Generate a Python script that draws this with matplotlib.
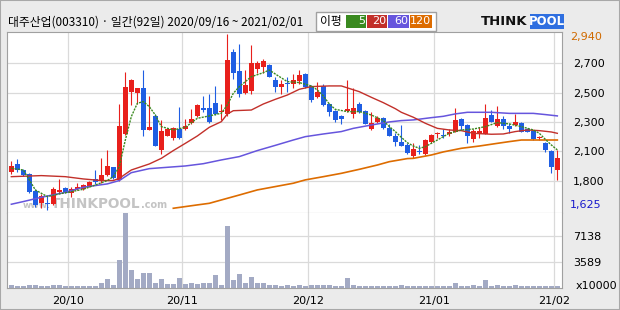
#!/usr/bin/env python3
"""대주산업(003310) 일간 캔들차트 + 이동평균 + 거래량 (ThinkPool 스타일) -> out.png"""
import numpy as np
import matplotlib
matplotlib.use("Agg")
import matplotlib.pyplot as plt
from matplotlib.patches import Rectangle

W, H = 620, 310  # px, dpi=100

# ---- 데이터: 2020/09/16 ~ 2021/02/01, 92 거래일 (원) ----
opens = [1910, 1965, 1925, 1895, 1765, 1680, 1680, 1670, 1760, 1790,
         1750, 1780, 1780, 1805, 1860, 1840, 1885, 1945, 1850, 2195,
         2510, 2500, 2535, 2225, 2330, 2075, 2180, 2165, 2230, 2230,
         2275, 2325, 2385, 2390, 2425, 2355, 2345, 2805, 2660, 2500,
         2515, 2680, 2690, 2705, 2595, 2545, 2570, 2565, 2590, 2640,
         2550, 2470, 2550, 2415, 2365, 2330, 2365, 2345, 2415, 2365,
         2230, 2280, 2315, 2240, 2175, 2130, 2110, 2025, 2065, 2045,
         2135, 2195, 2185, 2190, 2210, 2305, 2260, 2155, 2190, 2195,
         2335, 2250, 2305, 2255, 2260, 2275, 2230, 2215, 2160, 2125,
         2065, 1925]
highs = [1990, 2005, 1930, 1900, 1780, 1745, 1735, 1795, 1855, 1800,
         1795, 1830, 1820, 1840, 1925, 2010, 2075, 1950, 2420, 2655,
         2605, 2540, 2670, 2480, 2340, 2300, 2235, 2245, 2395, 2305,
         2380, 2415, 2480, 2490, 2550, 2420, 2940, 2830, 2865, 2670,
         2855, 2740, 2755, 2715, 2620, 2595, 2620, 2640, 2670, 2645,
         2560, 2580, 2570, 2425, 2370, 2335, 2600, 2535, 2435, 2370,
         2360, 2330, 2320, 2270, 2200, 2260, 2125, 2125, 2110, 2155,
         2195, 2210, 2230, 2230, 2385, 2315, 2270, 2230, 2245, 2420,
         2370, 2400, 2330, 2275, 2345, 2280, 2240, 2225, 2175, 2135,
         2075, 2075]
lows = [1895, 1910, 1880, 1750, 1650, 1640, 1625, 1665, 1755, 1750,
        1720, 1775, 1775, 1800, 1820, 1830, 1880, 1860, 1845, 2185,
        2410, 2415, 2180, 2220, 2100, 2045, 2175, 2145, 2155, 2225,
        2270, 2320, 2360, 2275, 2335, 2300, 2330, 2605, 2470, 2495,
        2490, 2645, 2645, 2615, 2510, 2495, 2510, 2535, 2565, 2540,
        2435, 2465, 2400, 2325, 2285, 2270, 2360, 2315, 2350, 2265,
        2225, 2275, 2230, 2175, 2100, 2100, 2045, 2015, 2045, 2035,
        2125, 2160, 2160, 2175, 2205, 2225, 2125, 2130, 2160, 2190,
        2280, 2245, 2230, 2200, 2250, 2205, 2205, 2150, 2145, 2055,
        1905, 1850]
closes = [1955, 1925, 1885, 1760, 1660, 1730, 1670, 1780, 1775, 1755,
          1785, 1800, 1815, 1835, 1835, 1890, 1955, 1865, 2255, 2545,
          2595, 2535, 2220, 2245, 2105, 2215, 2230, 2235, 2165, 2255,
          2305, 2410, 2370, 2285, 2345, 2360, 2745, 2650, 2490, 2560,
          2720, 2725, 2735, 2620, 2545, 2565, 2565, 2595, 2630, 2545,
          2450, 2505, 2410, 2360, 2295, 2305, 2380, 2385, 2360, 2270,
          2275, 2310, 2235, 2180, 2130, 2105, 2050, 2080, 2055, 2150,
          2185, 2200, 2180, 2210, 2295, 2255, 2180, 2215, 2215, 2310,
          2285, 2305, 2250, 2230, 2280, 2210, 2210, 2155, 2165, 2075,
          1950, 2015]
# 거래량 (x10000주)
volumes = [440, 300, 300, 440, 440, 300, 300, 440, 440, 300,
           300, 300, 300, 300, 300, 760, 1270, 440, 3900, 10400,
           2520, 1270, 2010, 2010, 760, 1270, 580, 580, 1410, 620,
           760, 620, 760, 760, 1820, 440, 8620, 1130, 1960, 760,
           1550, 760, 760, 440, 440, 300, 440, 300, 440, 300,
           440, 440, 440, 440, 300, 300, 1410, 440, 300, 300,
           300, 300, 300, 300, 300, 440, 300, 300, 300, 300,
           300, 300, 300, 300, 760, 300, 300, 440, 300, 1040,
           300, 440, 300, 300, 440, 300, 300, 300, 300, 300,
           300, 300]

# 이동평균선 (그림에서 읽은 점: 거래일 인덱스, 값)
ma5_idx = [0, 2, 3, 4, 6, 8, 10, 12, 14, 16, 17, 18, 19, 20, 21, 22, 23, 24, 25, 27,
           29, 31, 33, 35, 36, 37, 38, 40, 42, 43, 44, 46, 48, 50, 51, 52, 53, 54, 56, 58,
           60, 62, 63, 64, 65, 66, 67, 68, 69, 70, 72, 73, 75, 77, 79, 81, 83, 85, 87, 88,
           89, 90, 91]
ma5 = [1937, 1924, 1850, 1775, 1725, 1745, 1762, 1780, 1812, 1845, 1874, 1949, 2148, 2323,
       2422, 2435, 2397, 2335, 2248, 2223, 2243, 2310, 2328, 2348, 2410, 2497, 2547, 2621,
       2651, 2671, 2641, 2584, 2577, 2552, 2522, 2477, 2417, 2377, 2360, 2360, 2335, 2293,
       2248, 2211, 2168, 2128, 2103, 2086, 2098, 2123, 2173, 2198, 2223, 2230, 2248, 2278,
       2268, 2248, 2223, 2198, 2153, 2111, 2074]
ma20_idx = [0, 5, 9, 12, 15, 17, 18, 20, 23, 25, 27, 29, 31, 33, 35, 36, 37, 40, 42, 44,
            46, 48, 50, 53, 55, 58, 60, 62, 64, 65, 67, 69, 71, 73, 75, 77, 80, 82, 84, 86,
            88, 90, 91]
ma20 = [1874, 1882, 1874, 1857, 1845, 1845, 1862, 1924, 1969, 2011, 2069, 2123, 2178, 2243,
        2285, 2342, 2367, 2372, 2417, 2452, 2484, 2527, 2547, 2552, 2552, 2509, 2467, 2427,
        2382, 2355, 2318, 2273, 2235, 2223, 2218, 2198, 2191, 2193, 2211, 2223, 2218, 2208,
        2198]
ma60_idx = [0, 2, 5, 9, 12, 16, 18, 20, 23, 26, 29, 32, 35, 38, 41, 44, 47, 49, 52, 55,
            57, 60, 63, 65, 67, 70, 72, 74, 76, 80, 83, 87, 89, 91]
ma60 = [1668, 1688, 1720, 1757, 1795, 1820, 1845, 1904, 1934, 1944, 1954, 1971, 1999, 2024,
        2069, 2108, 2148, 2173, 2193, 2211, 2235, 2260, 2283, 2293, 2298, 2315, 2325, 2343,
        2355, 2355, 2347, 2347, 2338, 2328]
ma120_idx = [27, 31, 33, 35, 38, 41, 44, 47, 49, 52, 55, 58, 61, 63, 66, 67, 70, 72, 75, 78,
             81, 83, 85, 91]
ma120 = [1638, 1663, 1675, 1700, 1737, 1775, 1800, 1825, 1850, 1874, 1899, 1929, 1961, 1986,
         2009, 2011, 2036, 2059, 2086, 2103, 2123, 2136, 2148, 2148]

month_labels = ["20/10", "20/11", "20/12", "21/01", "21/02"]
month_start = [10, 29, 50, 71, 91]   # 각 월 첫 거래일 인덱스
vol_ticks = [3589, 7138]
ma_names = ["5", "20", "60", "120"]

RED, BLUE = "#e8201c", "#1f5ee3"
MA_COLORS = ["#3a8a20", "#c2302a", "#6655dd", "#dd6c00"]
GRID = "#dadada"
SPINE = "#a0a0a0"


def px_axes(fig, left, top, right, bottom):
    return fig.add_axes([left / W, 1 - bottom / H, (right - left) / W, (bottom - top) / H])


def fx(x, y):
    """pixel -> figure fraction"""
    return x / W, 1 - y / H


fig = plt.figure(figsize=(W / 100, H / 100), dpi=100, facecolor="#ebebeb")
plt.rcParams["font.family"] = ["DejaVu Sans"]
ax = px_axes(fig, 7, 32, 562, 212.5)
axv = px_axes(fig, 7, 212.5, 562, 288)

o, h, l, c = (np.array(a, dtype=float) for a in (opens, highs, lows, closes))
x = np.arange(len(c))
cols = np.where(c >= o, RED, BLUE)

# ---- 가격 패널 ----
ax.vlines(x, l, h, colors=cols, lw=0.8, zorder=2)
ax.bar(x, np.maximum(np.abs(c - o), 7), bottom=np.minimum(o, c), width=0.8,
       color=cols, lw=0, zorder=2)
ax.plot(ma120_idx, ma120, color=MA_COLORS[3], lw=1.2, zorder=3)
ax.plot(ma60_idx, ma60, color=MA_COLORS[2], lw=1.1, zorder=3)
ax.plot(ma20_idx, ma20, color=MA_COLORS[1], lw=1.0, zorder=3)
ax.plot(ma5_idx, ma5, color=MA_COLORS[0], lw=1.0, ls=(0, (1.5, 0.8)), zorder=3)

lo, hi = l.min(), h.max()
span = hi - lo
ax.set_xlim(-0.72, len(x) - 0.22)
ax.set_ylim(lo - span * 2.5 / 176, hi + span * 2 / 176)

# 눈금선은 최저~최고를 6등분, 라벨은 100원 단위 반올림
grid_vals = np.linspace(lo, hi, 7)[1:-1]
ax.set_yticks(grid_vals, [f"{round(v, -2):,.0f}" for v in grid_vals])
ax.yaxis.tick_right()
ax.tick_params(axis="y", length=0, pad=8, labelsize=8)
ax.set_xticks(np.array(month_start) - 0.5)
ax.set_xticklabels([])
ax.tick_params(axis="x", length=0)
ax.grid(True, color=GRID, lw=0.9)
ax.set_axisbelow(True)
for s in ax.spines.values():
    s.set_color(SPINE)

ax.annotate(f"{int(hi):,}", xy=(1, hi), xycoords=ax.get_yaxis_transform(),
            xytext=(5.8, -2.2), textcoords="offset points", va="center",
            fontsize=8, color="#d06a00")
ax.annotate(f"{int(lo):,}", xy=(1, lo), xycoords=ax.get_yaxis_transform(),
            xytext=(5.8, 3.6), textcoords="offset points", va="center",
            fontsize=8, color="#1a1acc")

# 워터마크
ax.text(*fx(23, 205.5), "www.", transform=fig.transFigure, fontsize=6.5, color="#c4c4c4",
        va="center", fontweight="bold", zorder=1)
ax.text(*fx(51, 204), "THINKPOOL", transform=fig.transFigure, fontsize=9.8,
        color="#c4c4c4", va="center", fontweight="heavy", zorder=1)
ax.text(*fx(141, 205.5), ".com", transform=fig.transFigure, fontsize=7, color="#c4c4c4",
        va="center", fontweight="bold", zorder=1)

# ---- 거래량 패널 ----
axv.bar(x, volumes, width=0.78, color="#a3aac4", lw=0, zorder=2)
axv.set_xlim(ax.get_xlim())
axv.set_ylim(0, 10460)
axv.set_yticks(vol_ticks, [str(v) for v in vol_ticks])
axv.yaxis.tick_right()
axv.tick_params(axis="y", length=0, pad=8, labelsize=8)
axv.set_xticks(np.array(month_start) - 0.5, month_labels)
axv.tick_params(axis="x", length=0, pad=6, labelsize=8)
axv.grid(True, color=GRID, lw=0.9)
axv.set_axisbelow(True)
for s in axv.spines.values():
    s.set_color(SPINE)
axv.spines["top"].set_visible(False)
axv.text(1 + 14 / 555, 2 / 75.5, "x10000", transform=axv.transAxes, va="center", fontsize=8)

# ---- 헤더 ----
fig.text(*fx(8, 22), "대주산업(003310) · 일간(92일) 2020/09/16 ~ 2021/02/01",
         family=["Noto Sans CJK KR", "DejaVu Sans"], fontsize=8.5, va="center")

# 이평 범례 상자
fig.patches.append(Rectangle(fx(316, 31), 120 / W, 19 / H, transform=fig.transFigure,
                             fc="white", ec=SPINE, lw=1))
fig.text(*fx(320, 21.5), "이평", family=["Noto Sans CJK KR"], fontsize=8.5, va="center")
box_x = [346, 367, 388, 410]
box_w = [20, 20, 21, 22]
for bx, bw, col, name in zip(box_x, box_w, MA_COLORS, ma_names):
    fig.patches.append(Rectangle(fx(bx, 28), bw / W, 13 / H, transform=fig.transFigure,
                                 fc=col, ec="none"))
    fig.text(*fx(bx + bw - 1, 21.5), name, color="white", fontsize=8, ha="right", va="center")

# ThinkPool 로고
fig.text(*fx(481, 21.5), "THINK", fontsize=9.5, fontweight="heavy", va="center", color="#111111")
fig.patches.append(Rectangle(fx(530, 28.5), 34 / W, 14 / H, transform=fig.transFigure,
                             fc="#2f6fe0", ec="none"))
fig.text(*fx(547, 21.8), "POOL", fontsize=8.5, fontweight="heavy", va="center", ha="center",
         color="white")

# 바깥 테두리
fig.patches.append(Rectangle((0, 0), 1, 1, transform=fig.transFigure, fill=False,
                             ec="#a8a8a8", lw=1.5))

fig.savefig("out.png", dpi=100, facecolor=fig.get_facecolor())
